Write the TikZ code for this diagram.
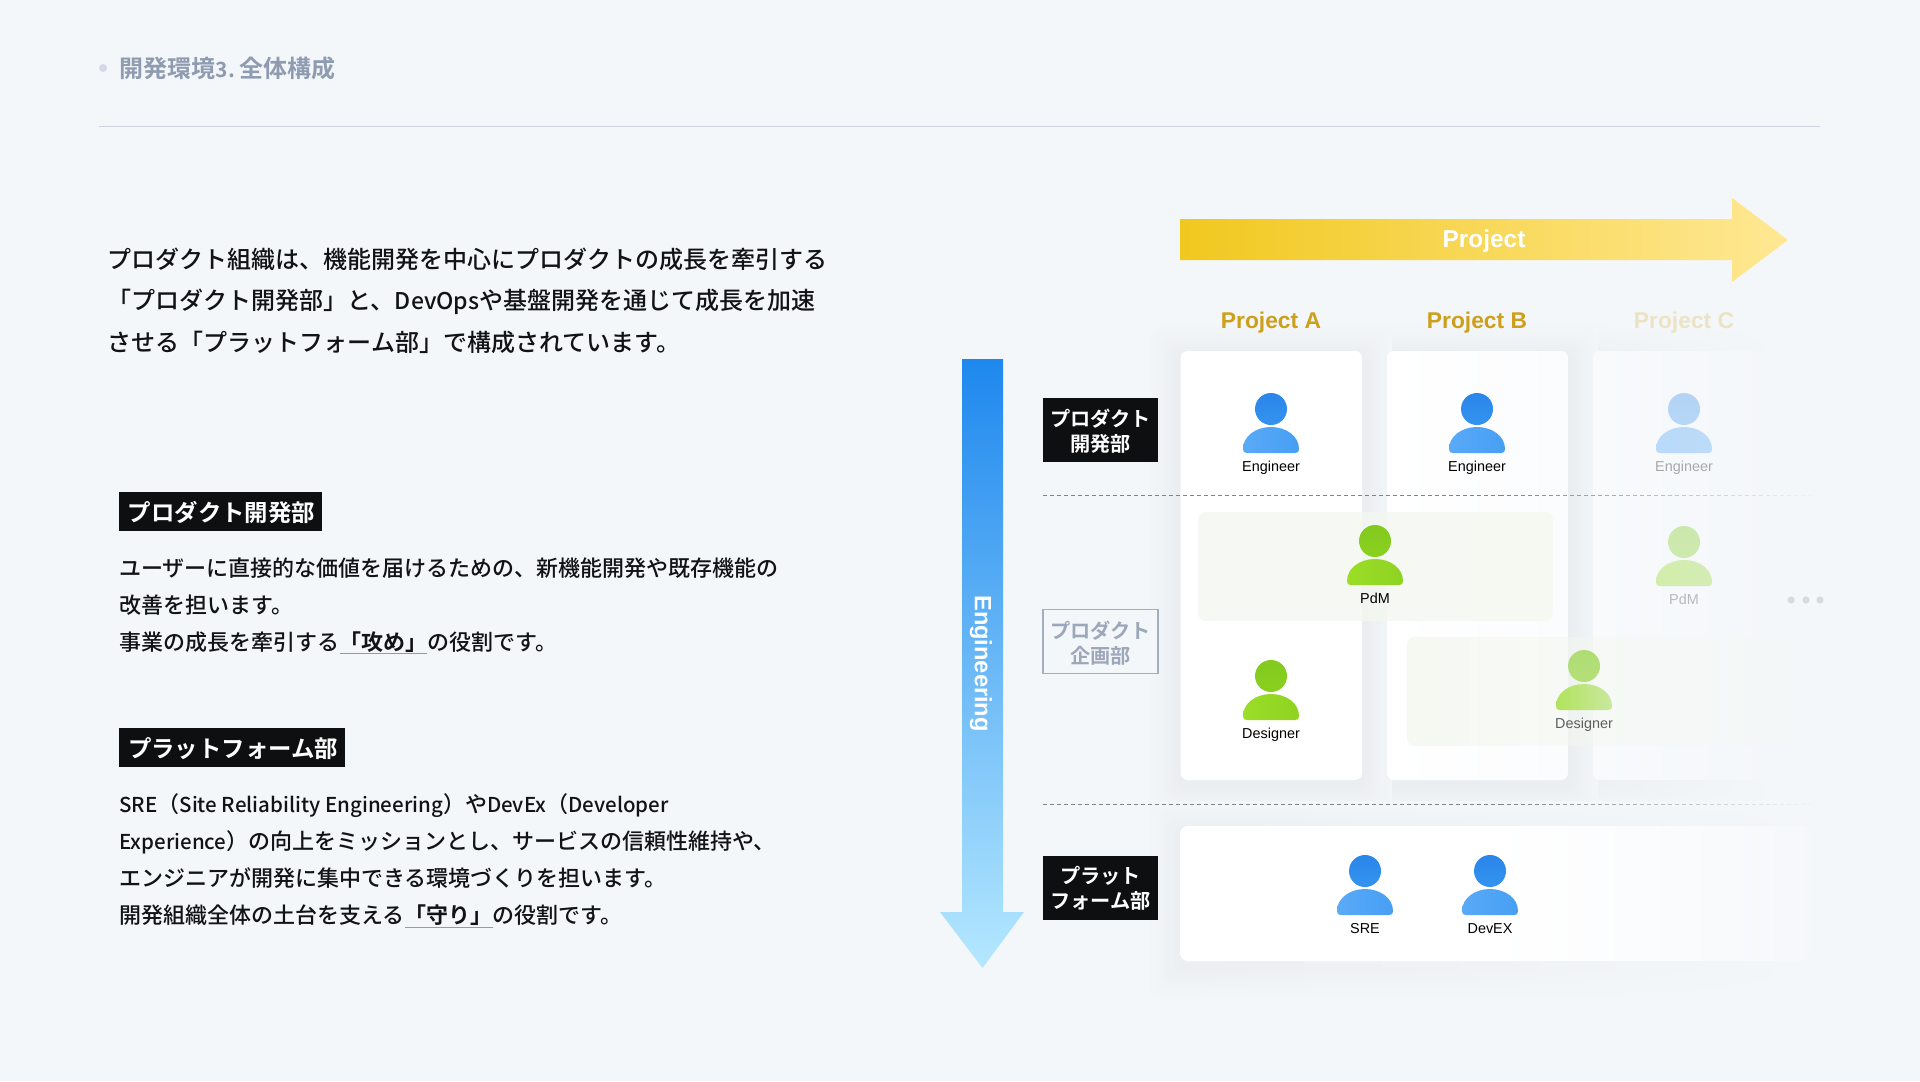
\documentclass[tikz,border=0pt]{standalone}
\usepackage{fontspec}
\setmainfont{Noto Sans CJK JP Medium}[BoldFont={Noto Sans CJK JP Bold}]
\newfontfamily\latinui{Liberation Sans}
\newcommand{\lat}[1]{{\fontsize{10.25}{14}\selectfont #1}}
\newcommand{\lowered}[1]{\raisebox{-.6pt}[\height][\depth]{#1}}
\usetikzlibrary{fadings,calc}
\definecolor{bg}{HTML}{F4F7FA}
\definecolor{rulec}{HTML}{CDD3DF}
\definecolor{titlec}{HTML}{8E9BB0}
\definecolor{ink}{HTML}{111316}
\definecolor{blk}{HTML}{0E0F10}
\definecolor{goldt}{HTML}{CE9F1A}
\definecolor{goldf}{HTML}{EBE3C3}
\definecolor{sepc}{HTML}{7F848C}
\definecolor{outl}{HTML}{A3AEC1}
\definecolor{outt}{HTML}{9CA7BA}
\definecolor{bandg}{HTML}{F4F8EF}
\definecolor{arrowYa}{HTML}{F1C81E}
\definecolor{arrowYb}{HTML}{FFE894}
\definecolor{arrowBa}{HTML}{1E88EE}
\definecolor{arrowBb}{HTML}{5CB2F9}
\definecolor{arrowBc}{HTML}{B5E8FF}
\definecolor{cardBr}{HTML}{FBFCFE}
\definecolor{cardCl}{HTML}{F8FAFC}
\definecolor{dotc}{HTML}{D7DBE1}
\definecolor{shadowc}{HTML}{EBEEF1}
\pgfdeclarehorizontalshading{cardfade}{100bp}{color(0bp)=(white); color(25bp)=(white); color(50bp)=(white); color(62bp)=(white!60!bg); color(75bp)=(white!12!bg); color(95bp)=(bg); color(100bp)=(bg)}
\tikzfading[name=fadeR, left color=transparent!0, right color=transparent!100]
\tikzset{
  bodytext/.style={anchor=base west,inner sep=0pt,text=ink,font=\fontsize{11}{14}\selectfont},
  introtext/.style={anchor=base west,inner sep=0pt,text=ink,font=\fontsize{12}{14}\selectfont},
  seclabel/.style={fill=blk,text=white,inner sep=0pt,minimum height=19.5pt,font=\bfseries\fontsize{11.7}{14}\selectfont},
  deptlabel/.style={fill=blk,text=white,inner sep=0pt,align=center,minimum width=57.5pt,minimum height=32pt,font=\bfseries\fontsize{10.1}{12.5}\selectfont},
  deptoutline/.style={fill=bg,draw=outl,line width=.6pt,text=outt,inner sep=0pt,align=center,minimum width=57.5pt,minimum height=32pt,font=\bfseries\fontsize{10.1}{12.5}\selectfont},
  projlabel/.style={inner sep=0pt,font=\latinui\bfseries\fontsize{11.4}{14}\selectfont},
  rolelabel/.style={inner sep=0pt,anchor=base,font=\latinui\fontsize{7.2}{9}\selectfont},
  sepline/.style={draw=sepc,line width=.5pt,dash pattern=on 2pt off 1.5pt},
  hl/.style={draw=titlec,line width=.5pt},
  cardcorner/.style={rounded corners=3.5pt}
}
% x1,y1,x2,y2, strength (per cent): opaque stacked layers, outermost first
\newcommand{\softshadow}[5]{%
  \foreach \i in {10,...,1}{
    \pgfmathtruncatemacro{\p}{(11-\i)*#5/10}
    \colorlet{layerc}{shadowc!\p!bg}
    \fill[layerc,rounded corners=5pt]
      ({#1-3*\i},{#2-3*\i+5}) rectangle ({#3+3*\i},{#4+3*\i+5});
  }}
\newcommand{\softshadowfaded}[5]{%
  \foreach \i in {10,...,1}{
    \pgfmathtruncatemacro{\p}{(11-\i)*#5/10}
    \colorlet{layerc}{shadowc!\p!bg}
    \shade[left color=layerc,middle color=layerc,right color=bg,rounded corners=5pt]
      ({#1-3*\i},{#2-3*\i+5}) rectangle ({#3+3*\i},{#4+3*\i+5});
  }}
\newcommand{\softshadowramp}[5]{%
  \foreach \i in {10,...,1}{
    \pgfmathtruncatemacro{\p}{(11-\i)*#5/10}
    \colorlet{layerc}{shadowc!\p!bg}
    \shade[left color=layerc,right color=bg,rounded corners=5pt]
      ({#1-3*\i},{#2-3*\i+5}) rectangle ({#3+3*\i},{#4+3*\i+5});
  }}
% name, cx, head cy, head colour top, head colour bottom, body left, body right, text colour, label
\newcommand{\person}[9]{%
  \begin{scope}[shift={(#2,#3)}]
    \shade[top color=#4,bottom color=#5] (0,0) circle (16);
    \shade[left color=#6,right color=#7]
      (-28,40) .. controls (-28,27) and (-15,18) .. (0,18)
      .. controls (15,18) and (28,27) .. (28,40)
      .. controls (28,43) and (27,44) .. (24,44) -- (-24,44)
      .. controls (-27,44) and (-28,43) .. (-28,40) -- cycle;
    \node[rolelabel,text=#8] (#1) at (0,62) {#9};
  \end{scope}}
\begin{document}
\begin{tikzpicture}[x=0.5pt,y=-0.5pt]
\useasboundingbox (0,0) rectangle (1920,1081);
\fill[bg] (0,0) rectangle (1920,1081);
% header
\fill[rulec!85!white] (103,68) circle (4);
\node[anchor=west,inner sep=0pt,text=titlec,font=\bfseries\fontsize{12}{14}\selectfont] (title) at (119.5,68) {開発環境{\fontsize{10.5}{14}\selectfont 3.}\hspace{.2em}全体構成};
\coordinate (ruleL) at (99,126.5);
\coordinate (ruleR) at (1820,126.5);
\draw[rulec,line width=.6pt] (ruleL) -- (ruleR);
% intro
\node[introtext] (intro1) at (107.5,268) {プロダクト組織は、機能開発を中心にプロダクトの成長を牽引する};
\node[introtext] (intro2) at (107.5,309.5) {「プロダクト開発部」と、{\fontsize{11.5}{14}\selectfont DevOps}や基盤開発を通じて成長を加速};
\node[introtext] (intro3) at (107.5,351) {させる「プラットフォーム部」で構成されています。};
% section 1
\node[seclabel,minimum width=101.5pt] (sec1) at (220.5,511.5) {\lowered{\hspace{1pt}プロダクト開発部}};
\node[bodytext] (a1) at (119,576) {ユーザーに直接的な価値を届けるための、新機能開発や既存機能の};
\node[bodytext] (a2) at (119,613) {改善を担います。};
\node[bodytext] (a3) at (119,650) {事業の成長を牽引する\textbf{「攻め」}の役割です。};
\coordinate (u1L) at (340,653.5);
\coordinate (u1R) at (427,653.5);
\draw[hl] (u1L) -- (u1R);
% section 2
\node[seclabel,minimum width=113pt] (sec2) at (232,747.5) {\lowered{\hspace{1pt}プラットフォーム部}};
\node[bodytext] (b1) at (119,812.5) {\lat{SRE}（\lat{Site Reliability Engineering}）や\lat{DevEx}（\lat{Developer}};
\node[bodytext] (b2) at (119,849.5) {\lat{Experience}）の向上をミッションとし、サービスの信頼性維持や、};
\node[bodytext] (b3) at (119,886.5) {エンジニアが開発に集中できる環境づくりを担います。};
\node[bodytext] (b4) at (119,923.5) {開発組織全体の土台を支える\textbf{「守り」}の役割です。};
\coordinate (u2L) at (405,927);
\coordinate (u2R) at (493,927);
\draw[hl] (u2L) -- (u2R);
% big arrows
\shade[left color=arrowYa,right color=arrowYb]
  (1180,219) -- (1732,219) -- (1732,198) -- (1788,240) -- (1732,282) -- (1732,260) -- (1180,260) -- cycle;
\node[inner sep=0pt,text=white,font=\latinui\bfseries\fontsize{12.2}{14}\selectfont] (project) at (1484,241) {Project};
\shade[top color=arrowBa,middle color=arrowBb,bottom color=arrowBc]
  (962,359) -- (1003,359) -- (1003,912) -- (1024,912) -- (982.5,968) -- (940,912) -- (962,912) -- cycle;
\node[inner sep=0pt,text=white,rotate=-90,font=\latinui\bfseries\fontsize{11.8}{14}\selectfont] (engineering) at (981,663.5) {Engineering};
% shadows
\softshadowramp{1593}{351}{1775}{780}{70}
\softshadow{1387}{351}{1568}{780}{95}
\softshadow{1180}{351}{1362}{780}{100}
\softshadowfaded{1180}{826}{1810}{961}{90}
% column headings
\node[projlabel,text=goldt] (pa) at (1271,323) {Project A};
\node[projlabel,text=goldt] (pb) at (1477,323) {Project B};
\node[projlabel,text=goldf] (pc) at (1684,323) {Project C};
% cards
\fill[white,cardcorner] (1180.5,351) rectangle (1362,780);
\shade[cardcorner,left color=white,right color=cardBr] (1387,351) rectangle (1568,780);
\shade[cardcorner,left color=cardCl,right color=bg] (1593,351) rectangle (1775,780);
\shade[cardcorner,shading=cardfade] (1180.5,826) rectangle (1810,961);
% bands
\fill[bandg,opacity=.75,rounded corners=4pt] (1198,512) rectangle (1553,621);
\fill[bandg,opacity=.8,rounded corners=4pt,path fading=fadeR] (1407,637) rectangle (1857,746);
% separators
\coordinate (s1L) at (1043,495.5);
\coordinate (s1M) at (1500,495.5);
\coordinate (s2L) at (1043,804.5);
\coordinate (s2M) at (1500,804.5);
\draw[sepline] (s1L) -- (s1M);
\draw[sepline] (s2L) -- (s2M);
\foreach \x in {1500,1507,...,1815}{
  \pgfmathsetmacro{\op}{(1817-\x)/317}
  \draw[sepc,line width=.5pt,opacity=\op] (\x,495.5) -- ++(4,0);
  \draw[sepc,line width=.5pt,opacity=\op] (\x,804.5) -- ++(4,0);
}
% department labels
\node[deptlabel] (d1) at (1100.5,429.5) {\lowered{プロダクト}\\\lowered{開発部}};
\node[deptoutline] (d2) at (1100.5,641.5) {\lowered{プロダクト}\\\lowered{企画部}};
\node[deptlabel] (d3) at (1100.5,887.5) {\lowered{プラット}\\\lowered{フォーム部}};
% people
\definecolor{bh}{HTML}{2A86E9}\definecolor{bb}{HTML}{3493F0}
\definecolor{bl}{HTML}{5AAAF7}\definecolor{br}{HTML}{469FF4}
\definecolor{gh}{HTML}{82CA1E}\definecolor{gb}{HTML}{8AD020}
\definecolor{gl}{HTML}{9BDD28}\definecolor{gr}{HTML}{8FD322}
\person{e1}{1271}{409}{bh}{bb}{bl}{br}{black}{Engineer}
\person{e2}{1477}{409}{bh}{bb}{bl}{br}{black}{Engineer}
\person{e3}{1684}{409}{bh!32!bg}{bb!32!bg}{bl!38!bg}{br!32!bg}{black!32!bg}{Engineer}
\person{pdm1}{1375}{541}{gh}{gb}{gl}{gr}{black}{PdM}
\person{pdm2}{1684}{542}{gh!35!bg}{gb!35!bg}{gl!38!bg}{gr!32!bg}{black!25!bg}{PdM}
\person{des1}{1271}{676}{gh}{gb}{gl}{gr}{black}{Designer}
\person{des2}{1584}{666}{gh!60!bg}{gb!60!bg}{gl!75!bg}{gr!42!bg}{black!62!bg}{Designer}
\person{sre}{1365}{871}{bh}{bb}{bl}{br}{black}{SRE}
\person{devex}{1490}{871}{bh}{bb}{bl}{br}{black}{DevEX}
% ellipsis
\foreach \x in {1791,1806,1820}{\fill[dotc] (\x,600) circle (3.6);}
\end{tikzpicture}
\end{document}
